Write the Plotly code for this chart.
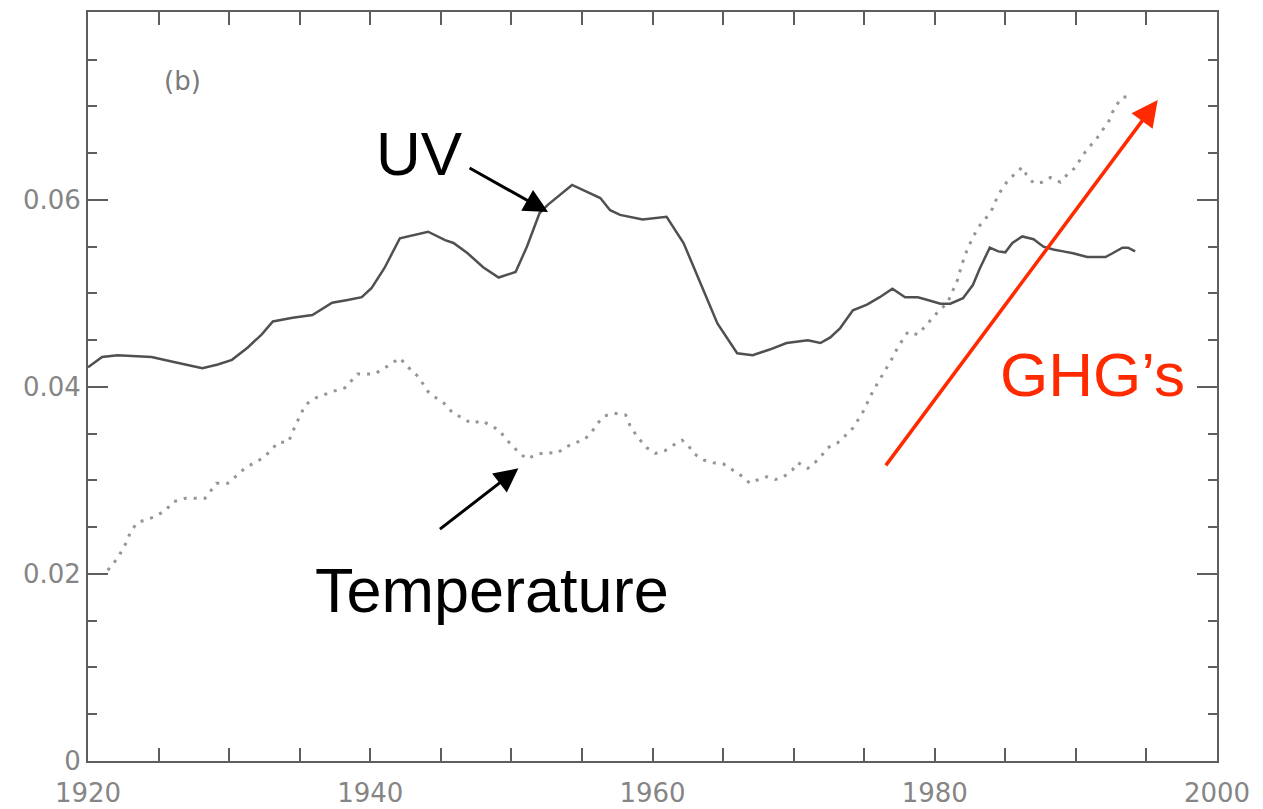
import plotly.graph_objects as go

# ---- data ----
uv_years = [1920.0, 1921.0, 1922.1, 1924.5, 1926.0, 1928.1, 1929.2, 1930.2, 1931.3, 1932.3,
            1933.1, 1934.5, 1935.9, 1937.3, 1938.4, 1939.4, 1940.1, 1941.0, 1942.1, 1943.4,
            1944.1, 1945.3, 1945.9, 1946.9, 1948.0, 1949.1, 1950.3, 1951.1, 1952.0, 1952.6,
            1954.3, 1956.3, 1957.0, 1957.7, 1959.3, 1961.0, 1962.2, 1963.4, 1964.6, 1966.0,
            1967.1, 1968.3, 1969.5, 1971.0, 1971.9, 1972.6, 1973.3, 1974.2, 1975.2, 1976.1,
            1977.0, 1977.9, 1978.8, 1979.5, 1980.4, 1981.1, 1982.0, 1982.7, 1983.2, 1983.9,
            1984.5, 1985.0, 1985.5, 1986.2, 1987.0, 1987.7, 1988.4, 1989.1, 1989.8, 1990.8,
            1992.1, 1992.6, 1993.3, 1993.7, 1994.2]
uv_values = [0.0421, 0.0432, 0.0434, 0.0432, 0.0427, 0.0420, 0.0424, 0.0429, 0.0442, 0.0456,
             0.0470, 0.0474, 0.0477, 0.0490, 0.0493, 0.0496, 0.0506, 0.0527, 0.0559, 0.0564,
             0.0566, 0.0557, 0.0554, 0.0543, 0.0528, 0.0517, 0.0523, 0.0550, 0.0586, 0.0595,
             0.0616, 0.0602, 0.0589, 0.0584, 0.0579, 0.0582, 0.0554, 0.0511, 0.0468, 0.0436,
             0.0434, 0.0440, 0.0447, 0.0450, 0.0447, 0.0453, 0.0463, 0.0482, 0.0488, 0.0496,
             0.0505, 0.0496, 0.0496, 0.0493, 0.0489, 0.0489, 0.0495, 0.0509, 0.0527, 0.0549,
             0.0545, 0.0544, 0.0554, 0.0561, 0.0558, 0.0550, 0.0547, 0.0545, 0.0543, 0.0539,
             0.0539, 0.0543, 0.0549, 0.0549, 0.0545]

temp_years = [1921.4, 1922.1, 1922.8, 1923.0, 1923.5, 1924.7, 1925.5, 1926.0, 1926.9, 1928.3,
              1929.1, 1929.9, 1930.6, 1931.1, 1931.8, 1932.5, 1933.0, 1933.5, 1934.2, 1934.7,
              1935.4, 1936.1, 1937.3, 1938.2, 1939.1, 1940.3, 1941.0, 1942.1, 1942.7, 1943.4,
              1944.1, 1944.6, 1945.2, 1945.8, 1946.5, 1947.2, 1947.9, 1948.5, 1949.1, 1949.6,
              1950.0, 1950.6, 1951.1, 1951.8, 1952.5, 1953.2, 1953.9, 1954.5, 1955.2, 1955.7,
              1956.1, 1956.6, 1957.3, 1958.1, 1958.4, 1958.9, 1959.6, 1960.2, 1960.9, 1961.5,
              1962.1, 1962.5, 1963.0, 1963.6, 1964.3, 1965.0, 1965.7, 1966.4, 1966.9, 1967.5,
              1968.1, 1968.7, 1969.3, 1969.9, 1970.3, 1971.0, 1971.5, 1971.9, 1972.4, 1973.1,
              1973.6, 1974.2, 1974.9, 1975.6, 1976.3, 1977.0, 1977.4, 1978.1, 1978.8, 1979.5,
              1980.2, 1980.9, 1981.2, 1981.6, 1981.9, 1982.3, 1982.7, 1983.1, 1983.7, 1984.1,
              1984.4, 1984.8, 1985.2, 1985.6, 1986.2, 1986.5, 1987.0, 1987.6, 1988.2, 1988.9,
              1989.5, 1990.0, 1990.4, 1990.9, 1991.4, 1991.9, 1992.3, 1992.6, 1992.9, 1993.3,
              1994.0]
temp_values = [0.0204, 0.0217, 0.0236, 0.0245, 0.0255, 0.0261, 0.0268, 0.0277, 0.0281, 0.0281,
               0.0297, 0.0297, 0.0306, 0.0313, 0.0319, 0.0325, 0.0333, 0.0341, 0.0341, 0.0359,
               0.0381, 0.0388, 0.0395, 0.0399, 0.0414, 0.0414, 0.0420, 0.0431, 0.0421, 0.0411,
               0.0395, 0.0389, 0.0383, 0.0373, 0.0367, 0.0361, 0.0364, 0.0359, 0.0354, 0.0345,
               0.0338, 0.0329, 0.0323, 0.0328, 0.0330, 0.0329, 0.0336, 0.0340, 0.0344, 0.0352,
               0.0361, 0.0369, 0.0372, 0.0370, 0.0359, 0.0347, 0.0335, 0.0329, 0.0332, 0.0338,
               0.0343, 0.0338, 0.0328, 0.0322, 0.0319, 0.0318, 0.0311, 0.0304, 0.0297, 0.0301,
               0.0304, 0.0301, 0.0304, 0.0311, 0.0319, 0.0313, 0.0319, 0.0325, 0.0335, 0.0340,
               0.0347, 0.0356, 0.0373, 0.0395, 0.0413, 0.0431, 0.0443, 0.0459, 0.0456, 0.0468,
               0.0480, 0.0490, 0.0501, 0.0514, 0.0530, 0.0547, 0.0560, 0.0571, 0.0582, 0.0591,
               0.0602, 0.0613, 0.0621, 0.0627, 0.0635, 0.0627, 0.0618, 0.0619, 0.0624, 0.0619,
               0.0629, 0.0635, 0.0646, 0.0656, 0.0664, 0.0675, 0.0683, 0.0694, 0.0702, 0.0710,
               0.0710]

x_tickvals = [1920, 1940, 1960, 1980, 2000]
x_ticktext = ["1920", "1940", "1960", "1980", "2000"]
y_tickvals = [0, 0.02, 0.04, 0.06]
y_ticktext = ["0", "0.02", "0.04", "0.06"]

AX = "#5e5e5e"
LBL = "#858585"
ANN_FONT = "Liberation Sans, Arial, sans-serif"

fig = go.Figure()
fig.add_trace(go.Scatter(x=temp_years, y=temp_values, mode="lines",
                         line=dict(color="#959595", width=3, dash="3px,7px"),
                         showlegend=False, hoverinfo="skip"))
fig.add_trace(go.Scatter(x=uv_years, y=uv_values, mode="lines",
                         line=dict(color="#505050", width=2.5),
                         showlegend=False, hoverinfo="skip"))

fig.update_layout(
    width=1263, height=809,
    margin=dict(l=88, r=46, t=12, b=48, autoexpand=False),
    paper_bgcolor="white", plot_bgcolor="white",
    showlegend=False,
    xaxis=dict(range=[1920, 2000], tickmode="array", tickvals=x_tickvals, ticktext=x_ticktext,
               ticks="inside", ticklen=13, tickwidth=2, tickcolor=AX,
               minor=dict(dtick=5, tick0=1920, ticks="inside", ticklen=13, tickwidth=2, tickcolor=AX),
               showline=True, linecolor=AX, linewidth=2, mirror="ticks",
               showgrid=False, zeroline=False, ticklabelstandoff=8, automargin=False,
               tickfont=dict(family="DejaVu Sans", size=26, color=LBL)),
    yaxis=dict(range=[0, 0.0801], tickmode="array", tickvals=y_tickvals, ticktext=y_ticktext,
               ticks="inside", ticklen=20, tickwidth=2, tickcolor=AX,
               minor=dict(dtick=0.005, tick0=0, ticks="inside", ticklen=9, tickwidth=2, tickcolor=AX),
               showline=True, linecolor=AX, linewidth=2, mirror="ticks",
               showgrid=False, zeroline=False, automargin=False,
               tickfont=dict(family="DejaVu Sans", size=26, color=LBL)),
)

# text labels
fig.add_annotation(x=1926.7, y=0.0727, text="(b)", showarrow=False,
                   font=dict(family="DejaVu Sans", size=26, color="#7a7a7a"),
                   xanchor="center", yanchor="middle")
fig.add_annotation(x=1943.5, y=0.0650, text="UV", showarrow=False,
                   font=dict(family=ANN_FONT, size=62, color="black"),
                   xanchor="center", yanchor="middle")
fig.add_annotation(x=1948.6, y=0.0183, text="Temperature", showarrow=False,
                   font=dict(family=ANN_FONT, size=63, color="black"),
                   xanchor="center", yanchor="middle")
fig.add_annotation(x=1991.2, y=0.0413, text="GHG\u2019s", showarrow=False,
                   font=dict(family=ANN_FONT, size=62, color="#ff2a00"),
                   xanchor="center", yanchor="middle")

# arrows
fig.add_annotation(x=1952.6, y=0.0587, ax=-80, ay=-45, text="", showarrow=True,
                   arrowhead=2, arrowsize=1.6, arrowwidth=3, arrowcolor="black")
fig.add_annotation(x=1950.5, y=0.0313, ax=-80, ay=62, text="", showarrow=True,
                   arrowhead=2, arrowsize=1.6, arrowwidth=3, arrowcolor="black")
fig.add_annotation(x=1995.8, y=0.0707, ax=-273, ay=367, text="", showarrow=True,
                   arrowhead=2, arrowsize=1.5, arrowwidth=3.5, arrowcolor="#ff2a00")

fig.write_html("out.html")
